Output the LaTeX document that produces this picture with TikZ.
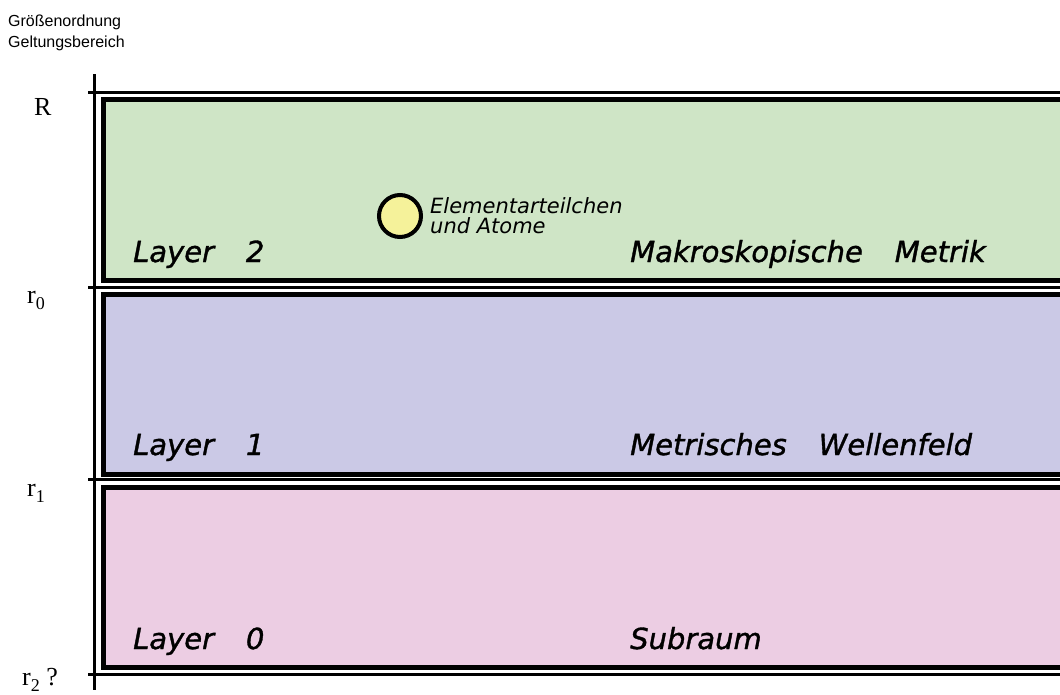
\documentclass[tikz,border=0pt]{standalone}
\usepackage{fontspec}
\setmainfont{Liberation Serif}
\newfontfamily\sansfont{DejaVu Sans}[ItalicFont={DejaVu Sans Oblique}]
\newfontfamily\layerfont{DejaVu Sans Oblique}[FakeBold=1.2]
\newfontfamily\headfont{Liberation Sans}
\usetikzlibrary{positioning, calc}
\usepackage{xcolor}
\definecolor{layergreen}{HTML}{CFE5C6}
\definecolor{layerblue}{HTML}{CBC9E6}
\definecolor{layerpink}{HTML}{ECCDE3}
\definecolor{particle}{HTML}{F5F29A}
\newcommand{\rsub}[1]{r\raisebox{-0.25em}{\fontsize{18}{18}\selectfont #1}}

\begin{document}
\begin{tikzpicture}[
    x=1pt, y=-1pt,
    layerbox/.style={draw, line width=5pt, minimum width=1000pt, minimum height=180.5pt, inner sep=0pt, anchor=north west},
    layertxt/.style={font=\layerfont\fontsize{29}{34}\selectfont, inner sep=0pt, anchor=base west},
    scaletxt/.style={font=\fontsize{26}{30}\selectfont, inner sep=0pt, anchor=base west},
    headtxt/.style={font=\headfont\fontsize{16}{18}\selectfont, inner sep=0pt, anchor=base west},
    axisline/.style={line width=3pt},
]
\useasboundingbox (0,0) rectangle (1060,694);
\clip (0,0) rectangle (1060,694);

\node[headtxt] (size) at (8,26) {Größenordnung};
\node[headtxt] (range) at (8,47) {Geltungsbereich};

% scale axis
\coordinate (axtop) at (94,74);
\coordinate (axbot) at (94,690);
\draw[axisline] (axtop) -- (axbot);

\foreach \t/\y in {R/92.5, r0/287, r1/479.5, r2/674} {
    \coordinate (t\t) at (88,\y);
    \coordinate (e\t) at (1070,\y);
    \draw[axisline] (t\t) -- (e\t);
}

\node[scaletxt] (labR) at (34,115) {R};
\node[scaletxt] (labr0) at (27,303) {\rsub{0}};
\node[scaletxt] (labr1) at (27,496) {\rsub{1}};
\node[scaletxt] (labr2) at (22,685) {\rsub{2} ?};

% layers
\node[layerbox, fill=layergreen] (layer2) at (101,97) {};
\node[layerbox, fill=layerblue] (layer1) at (101,291.5) {};
\node[layerbox, fill=layerpink] (layer0) at (101,484.5) {};

\node[layertxt] (name2) at (133,262) {Layer\hspace{1.1em}2};
\node[layertxt] (name1) at (133,455) {Layer\hspace{1.1em}1};
\node[layertxt] (name0) at (133,649) {Layer\hspace{1.1em}0};

\node[layertxt] (desc2) at (630,262) {Makroskopische\hspace{1.1em}Metrik};
\node[layertxt] (desc1) at (630,455) {Metrisches\hspace{1.1em}Wellenfeld};
\node[layertxt] (desc0) at (630,649) {Subraum};

% particle
\node[draw, circle, line width=4pt, fill=particle, minimum size=42pt, inner sep=0pt] (atom) at (400,216) {};
\node[right=7pt of atom, font=\sansfont\itshape\fontsize{21}{20}\selectfont, align=left, inner sep=0pt] (atomtxt) {Elementarteilchen\\und Atome};

\end{tikzpicture}
\end{document}
